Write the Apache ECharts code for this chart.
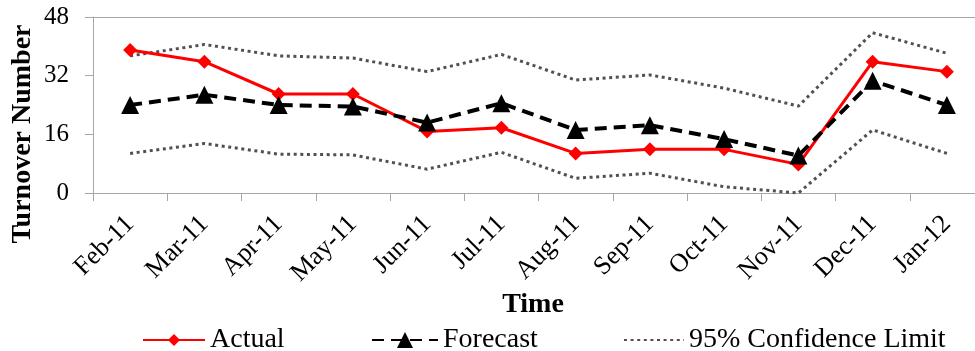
<!DOCTYPE html>
<html>
<head>
<meta charset="utf-8">
<script src="https://cdn.jsdelivr.net/npm/echarts@6/dist/echarts.min.js"></script>
<style>html,body{margin:0;padding:0;background:#fff;}#c{width:975px;height:351px;}</style>
</head>
<body>
<div id="c"></div>
<script>
const categories = ['Feb-11','Mar-11','Apr-11','May-11','Jun-11','Jul-11','Aug-11','Sep-11','Oct-11','Nov-11','Dec-11','Jan-12'];
const actual   = [39.0, 35.8, 27.0, 27.0, 16.8, 17.8, 10.8, 11.9, 11.9, 7.8, 35.8, 33.1];
const forecast = [24.0, 26.8, 24.0, 23.6, 19.2, 24.5, 17.2, 18.5, 14.7, 10.2, 30.6, 24.0];
const upperCL  = [37.4, 40.5, 37.4, 36.8, 33.1, 37.8, 30.8, 32.2, 28.6, 23.7, 43.7, 38.1];
const lowerCL  = [10.8, 13.5, 10.6, 10.4, 6.5, 11.1, 4.0, 5.4, 1.7, 0.0, 17.2, 10.8];
const yTicks = [0, 16, 32, 48];

const FONT = 'Liberation Serif';
const chart = echarts.init(document.getElementById('c'), null, {renderer:'canvas'});
const CL_NAME = '95% Confidence Limit';
const clStyle = {color:'#505050', width:3, type:[3,3.6], cap:'butt'};
const legendText = {fontFamily:FONT, fontSize:28, color:'#000'};
const axisGray = '#a6a6a6';
chart.setOption({
  animation:false,
  backgroundColor:'#fff',
  grid:{left:93, top:17, width:891, height:176, outerBoundsMode:'none', containLabel:false},
  legend:[
    {left:137, top:321, itemWidth:62, itemHeight:15, itemGap:0, textStyle:legendText, data:['Actual']},
    {left:366, top:321, itemWidth:66, itemHeight:20, itemGap:0, textStyle:legendText, data:['Forecast']},
    {left:618, top:321, itemWidth:60, itemHeight:15, itemGap:0, textStyle:legendText,
     itemStyle:{opacity:0}, data:[CL_NAME]}
  ],
  graphic:[
    {type:'text', x:23, y:134, rotation:Math.PI/2,
     style:{text:'Turnover Number', fontFamily:FONT, fontSize:28, fontWeight:'bold', fill:'#000',
            textAlign:'center', textVerticalAlign:'middle'}},
    {type:'text', x:533, y:305,
     style:{text:'Time', fontFamily:FONT, fontSize:28, fontWeight:'bold', fill:'#000',
            textAlign:'center', textVerticalAlign:'middle'}}
  ],
  xAxis:[{
    type:'category', data:categories, boundaryGap:true,
    axisLine:{lineStyle:{color:axisGray, width:1}},
    axisTick:{show:true, length:8, lineStyle:{color:axisGray}},
    axisLabel:{rotate:45, fontFamily:FONT, fontSize:26, color:'#000', margin:27, interval:0}
  },{
    type:'category', data:categories, position:'top', boundaryGap:true,
    axisLine:{show:true, lineStyle:{color:axisGray, width:1}},
    axisTick:{show:false}, axisLabel:{show:false}
  }],
  yAxis:{
    type:'value', min:yTicks[0], max:yTicks[yTicks.length-1], interval:16,
    splitLine:{show:false},
    axisLine:{show:true, lineStyle:{color:axisGray, width:1}},
    axisTick:{show:true, length:8, lineStyle:{color:axisGray}},
    axisLabel:{fontFamily:FONT, fontSize:25, color:'#000', margin:24}
  },
  series:[
    {name:'Actual', type:'line', data:actual, z:3,
     lineStyle:{color:'#ff0000', width:3}, itemStyle:{color:'#ff0000'},
     symbol:'diamond', symbolSize:14, showAllSymbol:true},
    {name:'Forecast', type:'line', data:forecast, z:4,
     lineStyle:{color:'#000', width:4, type:[12,7]}, itemStyle:{color:'#000'},
     symbol:'triangle', symbolSize:18, showAllSymbol:true},
    {name:CL_NAME, type:'line', data:upperCL, z:2, symbol:'none',
     lineStyle:clStyle, itemStyle:{color:'#505050'}},
    {name:CL_NAME, type:'line', data:lowerCL, z:2, symbol:'none',
     lineStyle:clStyle, itemStyle:{color:'#505050'}}
  ]
});
</script>
</body>
</html>
